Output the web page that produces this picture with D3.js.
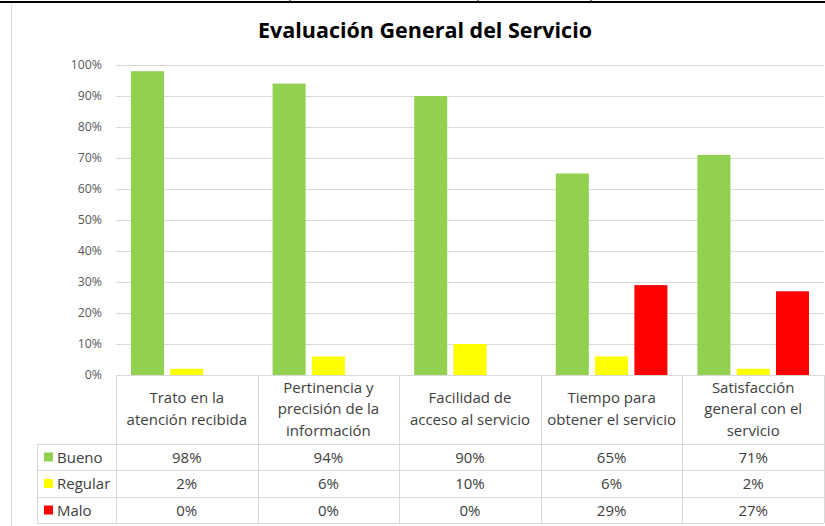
<!DOCTYPE html>
<html>
<head>
<meta charset="utf-8">
<script src="https://cdn.jsdelivr.net/npm/d3@7"></script>
<style>
  body { margin: 0; background: #fff; }
  svg { display: block; font-family: "Open Sans", "Noto Sans", sans-serif; }
</style>
</head>
<body>
<svg id="chart" width="825" height="526"></svg>
<script>
// chart data
const categories = [
  ["Trato en la", "atención recibida"],
  ["Pertinencia y", "precisión de la", "información"],
  ["Facilidad de", "acceso al servicio"],
  ["Tiempo para", "obtener el servicio"],
  ["Satisfacción", "general con el", "servicio"]
];
const seriesNames = ["Bueno", "Regular", "Malo"];
const bueno = [98, 94, 90, 65, 71];
const regular = [2, 6, 10, 6, 2];
const malo = [0, 0, 0, 29, 27];
const yTicks = [0, 10, 20, 30, 40, 50, 60, 70, 80, 90, 100];
const colors = ["#92D050", "#FFFF00", "#FF0000"];

const seriesValues = [bueno, regular, malo];

const svg = d3.select("#chart");
const width = 825;

const plotLeft = 116, plotRight = 824;
const y0 = 375, yTop = 65;
const gridColor = "#d9d9d9";
const textColor = "#404040";
const fs = 15;

// frame bits from the spreadsheet screenshot
svg.append("line")
  .attr("x1", 0).attr("x2", width).attr("y1", 2).attr("y2", 2)
  .attr("stroke", "#000").attr("stroke-width", 2);
[290, 478, 591].forEach(x => {
  svg.append("line")
    .attr("x1", x).attr("x2", x).attr("y1", 0).attr("y2", 3)
    .attr("stroke", "#000").attr("stroke-width", 1);
});
svg.append("line")
  .attr("x1", 11.5).attr("x2", 11.5).attr("y1", 5).attr("y2", 526)
  .attr("stroke", gridColor).attr("stroke-width", 1);

// title
svg.append("text")
  .attr("x", 425).attr("y", 38)
  .attr("text-anchor", "middle")
  .attr("font-size", 21.5)
  .attr("font-weight", "bold")
  .attr("fill", "#000")
  .text("Evaluación General del Servicio");

const y = d3.scaleLinear().domain([0, 100]).range([y0, yTop]);

const x0 = d3.scaleBand()
  .domain(d3.range(categories.length))
  .range([plotLeft, plotRight])
  .paddingInner(0).paddingOuter(0);

const colW = x0.bandwidth();
const x1 = d3.scaleBand()
  .domain(d3.range(seriesNames.length))
  .range([15, colW - 15])
  .paddingInner(0.16).paddingOuter(0);

// gridlines
svg.append("g")
  .selectAll("line")
  .data(yTicks.filter(t => t > 0))
  .join("line")
  .attr("x1", plotLeft).attr("x2", plotRight)
  .attr("y1", d => Math.round(y(d)) + 0.5)
  .attr("y2", d => Math.round(y(d)) + 0.5)
  .attr("stroke", gridColor);

// y axis labels
const yAxis = svg.append("g")
  .attr("transform", `translate(${plotLeft},0)`)
  .call(d3.axisLeft(y).tickValues(yTicks).tickFormat(d => d + "%").tickSize(0).tickPadding(14));
yAxis.select(".domain").remove();
yAxis.selectAll("text")
  .attr("font-size", 12.3)
  .attr("fill", "#595959")
  .attr("font-family", "Open Sans, sans-serif");

// bars
const groups = svg.append("g")
  .selectAll("g")
  .data(categories.map((c, i) => i))
  .join("g")
  .attr("transform", i => `translate(${x0(i)},0)`);

groups.selectAll("rect")
  .data(i => seriesValues.map((s, k) => ({ k: k, v: s[i] })))
  .join("rect")
  .attr("x", d => x1(d.k))
  .attr("width", x1.bandwidth())
  .attr("y", d => y(d.v))
  .attr("height", d => y0 - y(d.v))
  .attr("fill", d => colors[d.k]);

// data table
const rowTop = [375, 444, 470, 497, 523];
const tableLeft = 37;
const table = svg.append("g").attr("stroke", gridColor).attr("fill", "none");

// horizontal lines
table.append("line")
  .attr("x1", plotLeft).attr("x2", plotRight)
  .attr("y1", rowTop[0] + 0.5).attr("y2", rowTop[0] + 0.5);
rowTop.slice(1).forEach(ry => {
  table.append("line")
    .attr("x1", tableLeft).attr("x2", plotRight)
    .attr("y1", ry + 0.5).attr("y2", ry + 0.5);
});
// vertical lines
table.append("line")
  .attr("x1", tableLeft + 0.5).attr("x2", tableLeft + 0.5)
  .attr("y1", rowTop[1]).attr("y2", rowTop[4]);
d3.range(categories.length + 1).forEach(i => {
  const vx = i < categories.length ? x0(i) : plotRight;
  table.append("line")
    .attr("x1", Math.round(vx) + 0.5).attr("x2", Math.round(vx) + 0.5)
    .attr("y1", rowTop[0]).attr("y2", rowTop[4]);
});

// category labels
const lineH = 21.5;
groups.each(function(i) {
  const lines = categories[i];
  const cy = 414;
  const start = cy - (lines.length - 1) * lineH / 2;
  const t = d3.select(this).append("text")
    .attr("text-anchor", "middle")
    .attr("font-size", fs)
    .attr("fill", textColor);
  lines.forEach((ln, j) => {
    t.append("tspan")
      .attr("x", colW / 2)
      .attr("y", start + j * lineH)
      .text(ln);
  });
});

// series rows
seriesNames.forEach((name, k) => {
  const top = rowTop[k + 1], bot = rowTop[k + 2];
  const mid = (top + bot) / 2;
  svg.append("rect")
    .attr("x", 44).attr("y", mid - 4.5)
    .attr("width", 9).attr("height", 9)
    .attr("fill", colors[k]);
  svg.append("text")
    .attr("x", 57).attr("y", mid + 5.5)
    .attr("font-size", fs)
    .attr("fill", textColor)
    .text(name);
  svg.append("g")
    .selectAll("text")
    .data(seriesValues[k])
    .join("text")
    .attr("x", (d, i) => x0(i) + colW / 2)
    .attr("y", mid + 5.5)
    .attr("text-anchor", "middle")
    .attr("font-size", fs)
    .attr("fill", textColor)
    .text(d => d + "%");
});
</script>
</body>
</html>
